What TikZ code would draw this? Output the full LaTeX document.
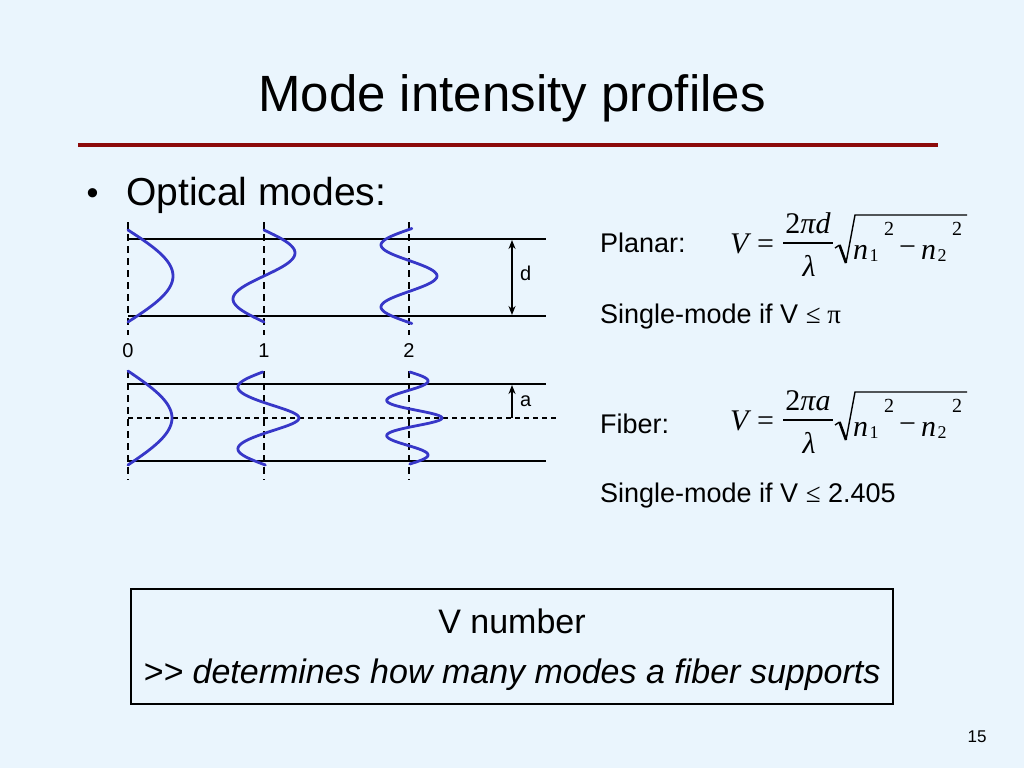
\RequirePackage{fix-cm}
\documentclass[tikz,border=0pt]{standalone}
\usepackage{fontspec}
\setmainfont{Liberation Sans}
\newfontfamily\tms{Liberation Serif}
\usetikzlibrary{arrows.meta}
\definecolor{bgblue}{RGB}{234,245,253}
\definecolor{rulered}{RGB}{140,10,10}
\definecolor{modeblue}{RGB}{55,55,200}
\newcommand\fs[1]{\fontsize{#1}{#1}\selectfont}
\tikzset{
  guide/.style={line width=2.4pt, black},
  vdash/.style={line width=2pt, black, dash pattern=on 7pt off 5pt},
  axisdash/.style={line width=1.1pt, black, dash pattern=on 5pt off 4pt},
  modecurve/.style={line width=2.8pt, modeblue, line cap=round},
  lbl/.style={font=\fs{20}, inner sep=0pt},
  body/.style={font=\fs{27}, inner sep=0pt, anchor=base west},
  dimarrow/.style={line width=2pt, -{Stealth[length=9pt,width=7pt]}},
  fvar/.style={font=\fs{30}\tms\itshape, inner sep=0pt},
  frm/.style={font=\fs{30}\tms, inner sep=0pt},
  fsub/.style={font=\fs{18}\tms, inner sep=0pt, anchor=base west},
  fsup/.style={font=\fs{20}\tms, inner sep=0pt, anchor=base west},
  thinrule/.style={line width=1.4pt, black},
}
% V-number formula; #1 name prefix, #2 vertical shift, #3 numerator variable
\newcommand\vformula[3]{%
\begin{scope}[shift={(0,#2)}]
  \node[fvar, anchor=base west] (#1V) at (730,253) {V};
  \node[frm, anchor=base west] (#1eq) at (757,253) {=};
  \coordinate (#1bl) at (783,243); \coordinate (#1br) at (833,243);
  \draw[thinrule] (#1bl) -- (#1br);
  \node[fvar, anchor=base] (#1num) at (808,233) {{\upshape 2}π#3};
  \node[fvar, anchor=base] (#1den) at (809,276) {λ};
  \coordinate (#1r0) at (835,248); \coordinate (#1r1) at (839.5,245);
  \coordinate (#1r2) at (846,263); \coordinate (#1r3) at (855,215);
  \coordinate (#1r4) at (967,215);
  \draw[thinrule] (#1r0) -- (#1r1);
  \draw[line width=2.6pt] (#1r1) -- (#1r2);
  \draw[thinrule, line join=miter] (#1r2) -- (#1r3) -- (#1r4);
  \node[fvar, anchor=base west] (#1na) at (853,259) {n};
  \node[fsub] (#1sa) at (869.5,261) {1};
  \node[fsup] (#1pa) at (884,235) {2};
  \node[frm, anchor=base west] (#1mi) at (899,256) {−};
  \node[fvar, anchor=base west] (#1nb) at (921,259) {n};
  \node[fsub] (#1sb) at (937.5,261) {2};
  \node[fsup] (#1pb) at (952,235) {2};
\end{scope}}
\begin{document}
\begin{tikzpicture}[x=1pt,y=-1pt]
\fill[bgblue] (0,0) rectangle (1024,768);
\useasboundingbox (0,0) rectangle (1024,768);

% title and rule
\node[font=\fs{51}, inner sep=0pt, anchor=base] (title) at (512,111) {Mode intensity profiles};
\coordinate (rl) at (78,145);
\coordinate (rr) at (938,145);
\draw[rulered, line width=4pt] (rl) -- (rr);

% bullet
\node[font=\fs{34}, inner sep=0pt] (bul) at (92.5,196.5) {•};
\node[font=\fs{39}, inner sep=0pt, anchor=base west] (opt) at (126,205) {Optical modes:};

% planar guide
\coordinate (pt0) at (128,239); \coordinate (pt1) at (546,239);
\coordinate (pb0) at (128,316); \coordinate (pb1) at (546,316);
\draw[guide] (pt0) -- (pt1);
\draw[guide] (pb0) -- (pb1);
\foreach \x/\n in {128/a,264/b,409/c}{
  \coordinate (pv\n top) at (\x,222);
  \coordinate (pv\n bot) at (\x,335);
  \draw[vdash] (pv\n top) -- (pv\n bot);
}
% planar modes
\draw[modecurve, domain=230:322, samples=60, variable=\y] plot ({128+45*cos(1.9565*(\y-276))},\y);
\draw[modecurve, domain=230:322, samples=60, variable=\y] plot ({264-31*sin(3.913*(\y-276))},\y);
\draw[modecurve, domain=228.5:323.5, samples=80, variable=\y] plot ({409+28*cos(5.806*(\y-276))},\y);

% d arrow
\coordinate (dA) at (512,240); \coordinate (dB) at (512,315);
\draw[dimarrow, {Stealth[length=9pt,width=7pt]}-{Stealth[length=9pt,width=7pt]}] (dA) -- (dB);
\node[lbl, anchor=west] (dl) at (520,273) {d};

% mode numbers
\node[lbl] (m0) at (128,351) {0};
\node[lbl] (m1) at (264,351) {1};
\node[lbl] (m2) at (409,351) {2};

% fiber
\coordinate (ft0) at (128,384); \coordinate (ft1) at (546,384);
\coordinate (fb0) at (128,461); \coordinate (fb1) at (546,461);
\coordinate (fc0) at (128,418); \coordinate (fc1) at (557,418);
\draw[guide] (ft0) -- (ft1);
\draw[guide] (fb0) -- (fb1);
\draw[axisdash] (fc0) -- (fc1);
\foreach \x/\n in {128/a,264/b,409/c}{
  \coordinate (fv\n top) at (\x,371);
  \coordinate (fv\n bot) at (\x,480);
  \draw[vdash] (fv\n top) -- (fv\n bot);
}
\draw[modecurve, domain=371:465, samples=60, variable=\y] plot ({128+44*cos(1.915*(\y-418))},\y);
\draw[modecurve, domain=372:465, samples=80, variable=\y] plot ({264+(26+9*exp(0-((\y-418)/15)*((\y-418)/15)))*cos(5.806*(\y-418))},\y);
\draw[modecurve, domain=372:464, samples=120, variable=\y] plot ({409+(19+14*exp(0-((\y-418)/15)*((\y-418)/15)))*cos(9.73*(\y-418))},\y);

% a arrow
\coordinate (aA) at (512,418); \coordinate (aB) at (512,385);
\draw[dimarrow] (aA) -- (aB);
\node[lbl, anchor=west] (al) at (520,401) {a};

% right-hand text
\node[body] (planar) at (600,252) {Planar:};
\vformula{P}{0}{d}
\node[body] (s1) at (600,323) {Single-mode if V {\tms ≤ π}};
\node[body] (fiber) at (600,433) {Fiber:};
\vformula{F}{177}{a}
\node[body] (s2) at (600,502) {Single-mode if V {\tms ≤} 2.405};

% box
\node[draw, line width=2.5pt, minimum width=762pt, minimum height=115pt, inner sep=0pt] (box) at (512,646.5) {};
\node[font=\fs{34}, inner sep=0pt, anchor=base] (vn) at (512,633) {V number};
\node[font=\fs{34}\itshape, inner sep=0pt, anchor=base] (det) at (512,683) {{>}\kern0pt{>} determines how many modes a fiber supports};

% page number
\node[font=\fs{17}, inner sep=0pt, anchor=base] (pg) at (977,742) {15};
\end{tikzpicture}
\end{document}
